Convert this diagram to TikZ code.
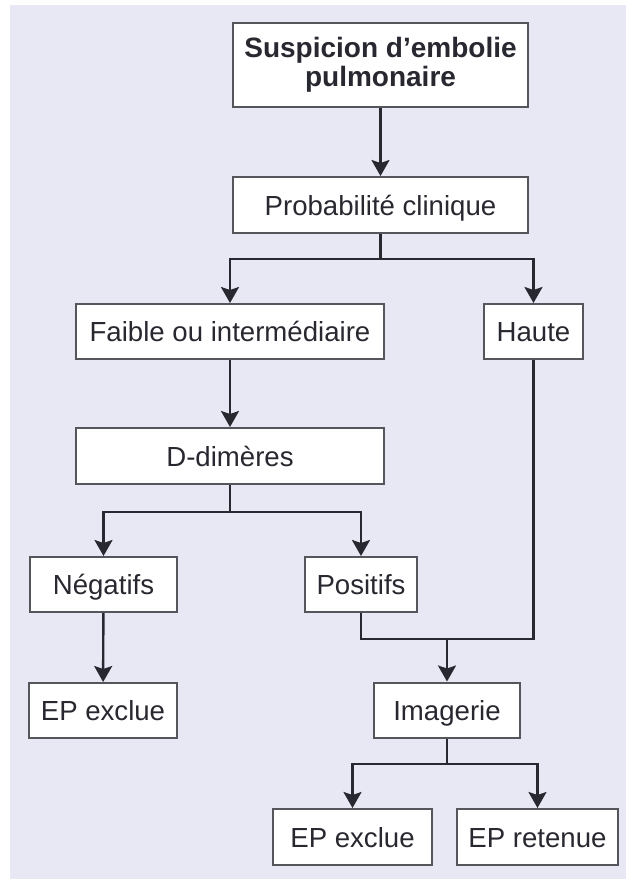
\documentclass[tikz,border=0pt]{standalone}
\usepackage{fontspec}
\setmainfont{Liberation Sans}
\usepackage{xcolor}
\usetikzlibrary{arrows.meta}

\definecolor{bgpanel}{RGB}{232,232,244}
\definecolor{boxline}{RGB}{85,85,92}
\definecolor{inkdark}{RGB}{40,40,48}

\begin{document}
\begin{tikzpicture}[
  x=0.5pt, y=-0.5pt,
  box/.style={draw=boxline, line width=1pt, fill=white, align=center, inner sep=0pt,
              text=inkdark, font=\fontsize{13.8}{15}\selectfont},
  lbl/.style={box, text height=10pt, text depth=0pt},
  arr/.style={-{Stealth[length=8pt, width=9pt, inset=1.5pt]}, line width=1.2pt, draw=inkdark},
  lnk/.style={line width=1.2pt, draw=inkdark}
]
\useasboundingbox (0,0) rectangle (626,879);
\fill[bgpanel] (10,5) rectangle (626,879);

\node[box, minimum width=147.5pt, minimum height=42pt, font=\bfseries\fontsize{14}{14.5}\selectfont] (sus) at (380.5,65) {Suspicion d’embolie\\pulmonaire};
\node[lbl, minimum width=147.5pt, minimum height=28pt] (prob) at (380.5,205) {Probabilité clinique};
\node[lbl, minimum width=154pt, minimum height=27.5pt] (faible) at (230,331.5) {Faible ou intermédiaire};
\node[lbl, minimum width=49.5pt, minimum height=27.5pt] (haute) at (533.5,331.5) {Haute};
\node[lbl, minimum width=154pt, minimum height=28pt] (ddim) at (230,456) {D-dimères};
\node[lbl, minimum width=73.5pt, minimum height=27.5pt] (neg) at (103.5,584.5) {Négatifs};
\node[lbl, minimum width=56pt, minimum height=27.5pt] (pos) at (361,584.5) {Positifs};
\node[lbl, minimum width=74pt, minimum height=27.5pt] (exclA) at (103,710.5) {EP exclue};
\node[lbl, minimum width=73pt, minimum height=27.5pt] (imag) at (447,710) {Imagerie};
\node[lbl, minimum width=79.5pt, minimum height=28pt] (exclB) at (352.5,837) {EP exclue};
\node[lbl, minimum width=80.5pt, minimum height=28pt] (ret) at (537.5,837) {EP retenue};

% branch points
\coordinate (splitA) at (380.5,259);
\coordinate (splitB) at (230,512);
\coordinate (joinC) at (447,639);
\coordinate (splitD) at (447,764);

\draw[arr] (sus) -- (prob);
\draw[lnk] (prob.south) -- (splitA);
\draw[arr] (splitA) -| (faible.north);
\draw[arr] (splitA) -| (haute.north);
\draw[arr] (faible) -- (ddim);
\draw[lnk] (ddim.south) -- (splitB);
\draw[arr] (splitB) -| (neg.north);
\draw[arr] (splitB) -| (pos.north);
\draw[arr] (neg) -- (exclA);
\draw[lnk] (pos.south) |- (joinC);
\draw[lnk] (haute.south) |- (joinC);
\draw[arr] (joinC) -- (imag.north);
\draw[lnk] (imag.south) -- (splitD);
\draw[arr] (splitD) -| (exclB.north);
\draw[arr] (splitD) -| (ret.north);
\end{tikzpicture}
\end{document}
